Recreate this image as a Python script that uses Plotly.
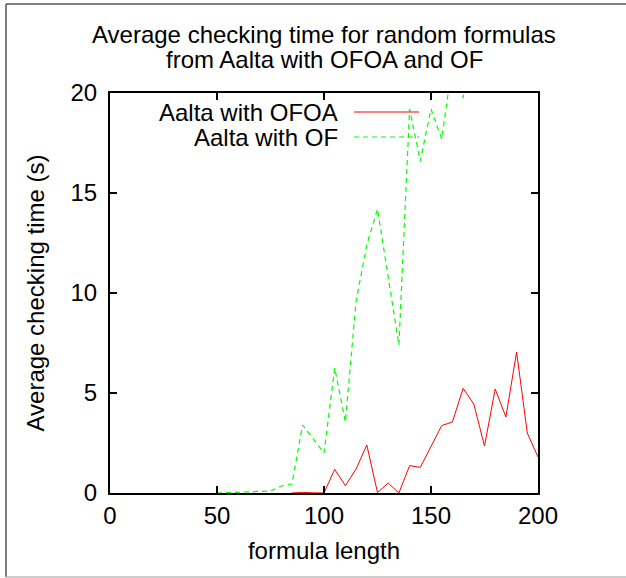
import plotly.graph_objects as go

# ---- data ----
lengths = [5, 10, 15, 20, 25, 30, 35, 40, 45, 50,
           55, 60, 65, 70, 75, 80, 85, 90, 95, 100,
           105, 110, 115, 120, 125, 130, 135, 140, 145, 150,
           155, 160, 165, 170, 175, 180, 185, 190, 195, 200]

ofoa_time = [None, None, None, None, None, None, None, None, None, None,
             None, None, None, None, None, None, 0, 0.03, 0.01, 0,
             1.18, 0.37, 1.2, 2.4, 0.02, 0.5, 0, 1.37, 1.28, 2.3,
             3.37, 3.55, 5.23, 4.45, 2.35, 5.2, 3.8, 7.05, 3.0, 1.8]

of_time = [None, None, None, None, None, None, None, None, None, 0,
           0.02, 0.04, 0.06, 0.08, 0.1, 0.35, 0.45, 3.4, 2.7, 2.0,
           6.25, 3.55, 9.6, 12.4, 14.2, 10.8, 7.4, 19.2, 16.6, 19.2,
           17.7, 21.5, 19.75, 23.5, 25.0, 26.0, 27.0, 29.0, 28.0, 30.0]

series_names = ["Aalta with OFOA", "Aalta with OF"]
title_lines = ["Average checking time for random formulas",
               "from Aalta with OFOA and OF"]
x_title = "formula length"
y_title = "Average checking time (s)"
x_ticks = [0, 50, 100, 150, 200]
y_ticks = [0, 5, 10, 15, 20]

FONT = "Liberation Sans, Arial, Helvetica, sans-serif"
RED = "#ff0000"
GREEN = "#00ff00"

fig = go.Figure()
fig.add_trace(go.Scatter(x=lengths, y=ofoa_time, mode="lines", name=series_names[0],
                         line=dict(color=RED, width=1)))
fig.add_trace(go.Scatter(x=lengths, y=of_time, mode="lines", name=series_names[1],
                         line=dict(color=GREEN, width=1.2, dash="5px,4px")))

L, R, T, B = 110, 538, 93, 493
W, H = 626, 578

def px(xp):
    return (xp - L) / (R - L)

def py(yp):
    return (B - yp) / (B - T)

axis_common = dict(showgrid=False, zeroline=False, showline=True, linecolor="black",
                   linewidth=2, mirror="ticks", ticks="inside", ticklen=7, tickwidth=2,
                   tickcolor="black", tickfont=dict(family=FONT, size=24, color="black"))

fig.update_layout(
    width=W, height=H,
    margin=dict(l=L, r=W - R, t=T, b=H - B),
    paper_bgcolor="white", plot_bgcolor="white",
    showlegend=False,
    font=dict(family=FONT, size=24, color="black"),
    xaxis=dict(range=[0, 200], tickvals=x_ticks, **axis_common,
               title=dict(text=x_title, font=dict(family=FONT, size=24), standoff=14)),
    yaxis=dict(range=[0, 20], tickvals=y_ticks, ticklabelstandoff=6, **axis_common,
               title=dict(text=y_title, font=dict(family=FONT, size=24), standoff=19)),
)

# title as two lines
for line, yc in zip(title_lines, [35, 59]):
    fig.add_annotation(text=line, xref="paper", yref="paper", x=px(324), y=py(yc),
                       xanchor="center", yanchor="middle", showarrow=False,
                       font=dict(family=FONT, size=24, color="black"))

# gnuplot-style legend (text left of sample line)
legend_rows = [(series_names[0], 112, dict(color=RED, width=1)),
               (series_names[1], 137, dict(color=GREEN, width=1.2, dash="5px,4px"))]
for name, yc, ln in legend_rows:
    fig.add_annotation(text=name, xref="paper", yref="paper", x=px(340), y=py(yc),
                       xanchor="right", yanchor="middle", showarrow=False,
                       font=dict(family=FONT, size=24, color="black"))
    fig.add_shape(type="line", xref="paper", yref="paper", x0=px(354), x1=px(419),
                  y0=py(yc), y1=py(yc), line=ln)

# outer frame of the picture
fig.add_shape(type="line", xref="paper", yref="paper", x0=px(6), x1=px(626), y0=py(4), y1=py(4),
              line=dict(color="#555555", width=1.5))
fig.add_shape(type="line", xref="paper", yref="paper", x0=px(6), x1=px(6), y0=py(4), y1=py(577),
              line=dict(color="#555555", width=1.5))
fig.add_shape(type="line", xref="paper", yref="paper", x0=px(6), x1=px(626), y0=py(577), y1=py(577),
              line=dict(color="#bbbbbb", width=1.5))

fig.write_html("out.html", config={"displayModeBar": False},
               post_script="document.body.style.margin='0px';document.body.style.overflow='hidden';")
